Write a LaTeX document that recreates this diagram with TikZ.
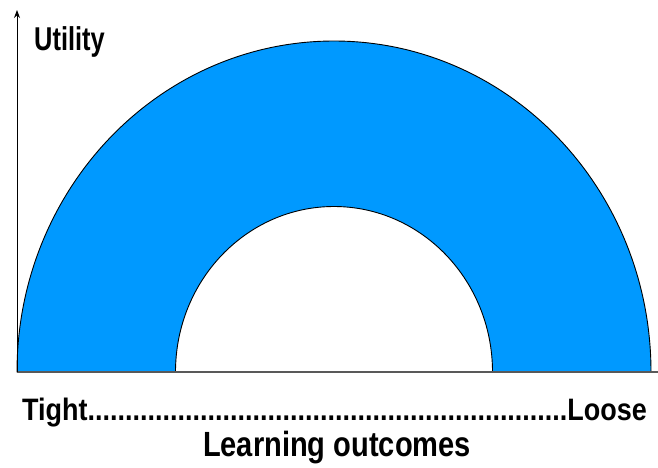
\documentclass[tikz,border=0pt]{standalone}
\usepackage{fontspec}
\setmainfont{Liberation Sans}
\newfontfamily\narrowA[FakeStretch=0.77]{Liberation Sans}
\newfontfamily\narrowB[FakeStretch=0.87]{Liberation Sans}
\newfontfamily\narrowC[FakeStretch=0.83]{Liberation Sans}
\usetikzlibrary{arrows.meta}
\definecolor{bandblue}{HTML}{0099FF}
\definecolor{axisgray}{HTML}{595959}
\tikzset{
  band/.style={fill=bandblue, draw=black, line width=0.9pt},
  yaxis/.style={draw=black, line width=1pt, -{Stealth[length=8pt,width=6pt]}},
  xaxis/.style={draw=axisgray, line width=2.2pt},
  lbl/.style={inner sep=0pt, font=\bfseries}
}
\begin{document}
\begin{tikzpicture}[x=1pt,y=-1pt]
\useasboundingbox (0,0) rectangle (658,467);
\path[band] (17,372) arc[start angle=180, end angle=360, x radius=317, y radius=331]
  -- (492.5,372) arc[start angle=360, end angle=180, x radius=158.5, y radius=165.5] -- cycle;
\coordinate (o) at (17,372);
\coordinate (ytop) at (17,10);
\coordinate (xend) at (658,372);
\draw[xaxis] (o) -- (xend);
\draw[yaxis] (o) -- (ytop);
\node[lbl, anchor=base west, font=\bfseries\narrowA\fontsize{33}{33}\selectfont] (util) at (34,50) {Utility};
\node[lbl, anchor=base west, font=\bfseries\narrowB\fontsize{31}{31}\selectfont] (tl) at (22,420) {Tight................................................................Loose};
\node[lbl, anchor=base, font=\bfseries\narrowC\fontsize{35}{35}\selectfont] (lo) at (337,456) {Learning outcomes};
\end{tikzpicture}
\end{document}
